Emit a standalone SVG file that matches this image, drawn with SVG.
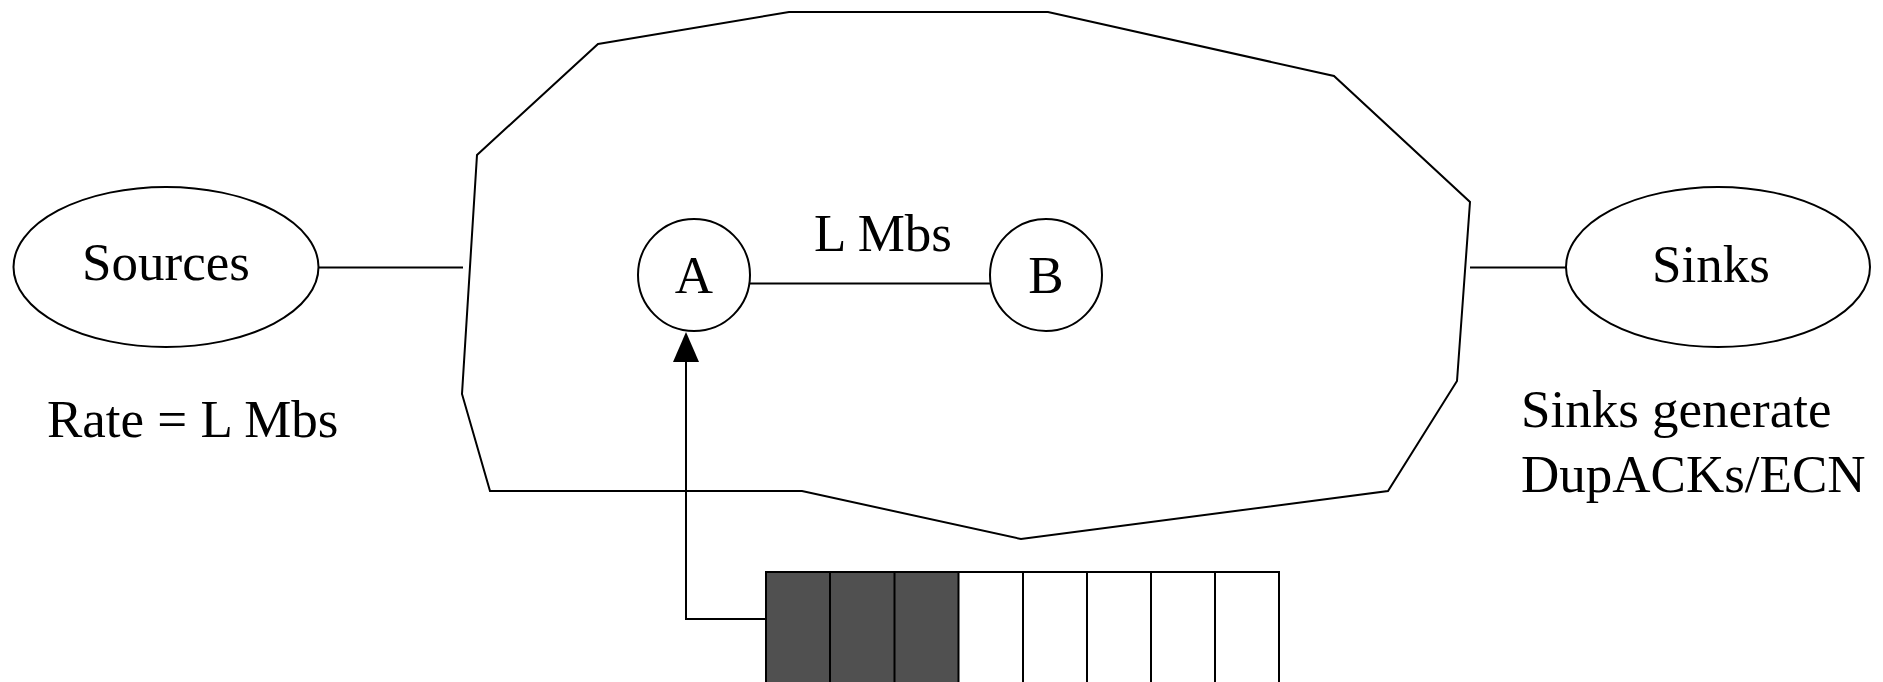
<svg xmlns="http://www.w3.org/2000/svg" width="1883" height="682" viewBox="0 0 1883 682">
<style>
.ln{fill:none;stroke:#000;stroke-width:2}
.sh{fill:#fff;stroke:#000;stroke-width:2}
.t{font-family:"Liberation Serif","Times New Roman",serif;font-size:53px;fill:#000}
.m{text-anchor:middle}
.q{stroke:#000;stroke-width:2}
</style>
<rect width="1883" height="682" fill="#fff"/>
<g id="network">
<polygon class="ln" points="598,44 789,12 1048,12 1334,76 1470,202 1457,381 1388,491 1021,539 802,491 490,491 462,394 477,155"/>
</g>
<g id="connectors">
<line class="ln" x1="318" y1="267.5" x2="463" y2="267.5"/>
<line class="ln" x1="1470" y1="267.5" x2="1566" y2="267.5"/>
<line class="ln" x1="750" y1="283.5" x2="990" y2="283.5"/>
<path class="ln" d="M766,619 H686 V360"/>
<path d="M686,332 L699,362 L673,362 Z" fill="#000"/>
</g>
<g id="sources">
<ellipse class="sh" cx="166" cy="267" rx="152.5" ry="80"/>
<text class="t m" x="166" y="280">Sources</text>
</g>
<text class="t" x="47" y="437">Rate = L Mbs</text>
<g id="sinks">
<ellipse class="sh" cx="1718" cy="267" rx="152" ry="80"/>
<text class="t m" x="1711" y="282">Sinks</text>
</g>
<text class="t" x="1521" y="427">Sinks generate</text>
<text class="t" x="1521" y="492">DupACKs/ECN</text>
<g id="nodeA">
<circle class="sh" cx="694" cy="275" r="56"/>
<text class="t m" x="694" y="293">A</text>
</g>
<g id="nodeB">
<circle class="sh" cx="1046" cy="275" r="56"/>
<text class="t m" x="1046" y="293">B</text>
</g>
<text class="t m" x="883" y="251">L Mbs</text>
<g id="queue">
<rect x="766" y="572" width="192" height="120" fill="#505050"/>
<rect class="ln" x="766" y="572" width="513" height="120"/>
<line class="q" x1="830" y1="572" x2="830" y2="692"/>
<line class="q" x1="894.5" y1="572" x2="894.5" y2="692"/>
<line class="q" x1="958.5" y1="572" x2="958.5" y2="692"/>
<line class="q" x1="1023" y1="572" x2="1023" y2="692"/>
<line class="q" x1="1087" y1="572" x2="1087" y2="692"/>
<line class="q" x1="1151" y1="572" x2="1151" y2="692"/>
<line class="q" x1="1215" y1="572" x2="1215" y2="692"/>
</g>
</svg>
